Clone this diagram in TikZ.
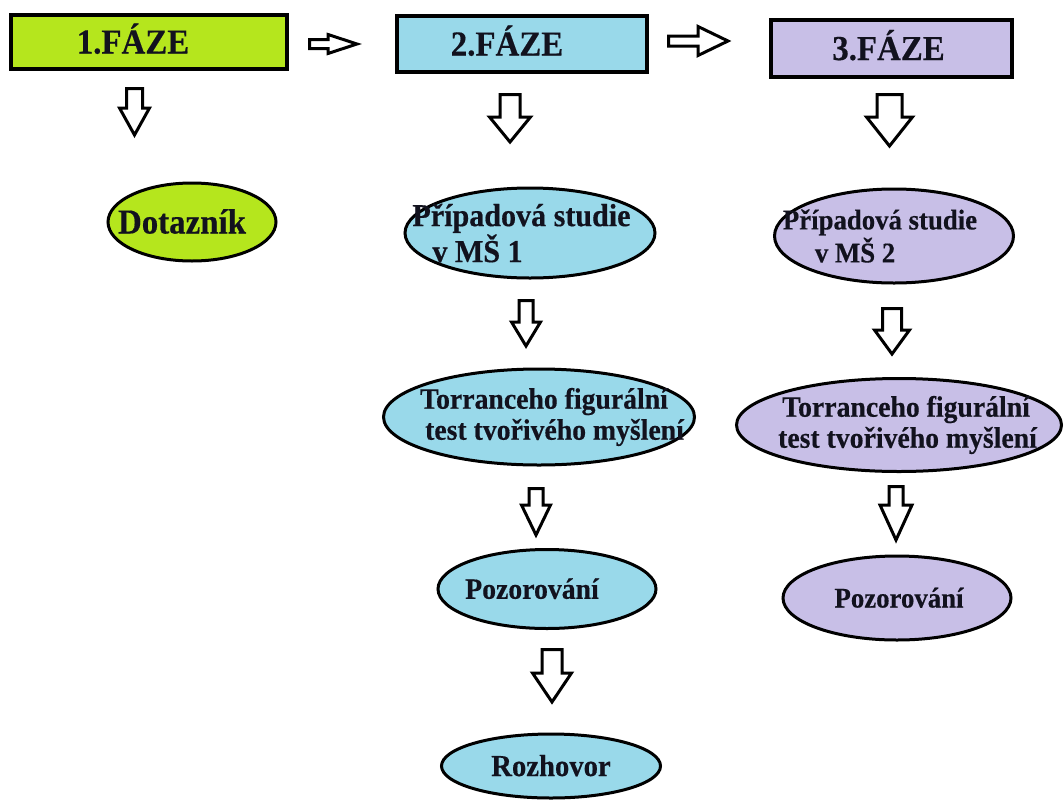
\documentclass[tikz,border=0pt]{standalone}
\usepackage{fontspec}
\setmainfont{Liberation Serif}
\newfontfamily\tallbf[FakeStretch=0.94,FakeBold=0.4]{Liberation Serif Bold}
\usetikzlibrary{shapes.geometric}
\definecolor{clime}{RGB}{181,230,29}
\definecolor{cblue}{RGB}{153,217,234}
\definecolor{clav}{RGB}{200,191,231}
\definecolor{ctext}{RGB}{18,18,30}
\newcommand\ft[2]{\tallbf\fontsize{#1}{#2}\selectfont}
% down block arrow: cx, ytop, yhead, ytip, shaft half width, head half width
\newcommand\darr[6]{\draw[barrow] ({#1-#5},#2) -- ({#1+#5},#2) -- ({#1+#5},#3) -- ({#1+#6},#3) -- (#1,#4) -- ({#1-#6},#3) -- ({#1-#5},#3) -- cycle;}
% right block arrow: cy, xleft, xhead, xtip, shaft half width, head half width
\newcommand\rarr[6]{\draw[barrow] (#2,{#1-#5}) -- (#3,{#1-#5}) -- (#3,{#1-#6}) -- (#4,#1) -- (#3,{#1+#6}) -- (#3,{#1+#5}) -- (#2,{#1+#5}) -- cycle;}
\begin{document}
\begin{tikzpicture}[x=1pt,y=-1pt,
  box/.style={draw=black, rectangle, line width=4pt, inner sep=0pt},
  ell/.style={draw=black, ellipse, line width=3pt, inner sep=0pt},
  lbl/.style={text=ctext, inner sep=0pt, outer sep=0pt, align=left},
  barrow/.style={draw=black, line width=3pt, fill=white, line join=miter}]
\path[use as bounding box, fill=white] (0,0) rectangle (1064,803);

% phase boxes
\node[box, fill=clime, minimum width=276pt, minimum height=54pt,
  label={[lbl, font=\ft{35}{38}, text height=23pt, text depth=0pt, xshift=-16pt]center:1.FÁZE}] (f1) at (149,42) {};
\node[box, fill=cblue, minimum width=250pt, minimum height=56pt,
  label={[lbl, font=\ft{35}{38}, text height=23pt, text depth=0pt, xshift=-15pt]center:2.FÁZE}] (f2) at (522,44) {};
\node[box, fill=clav, minimum width=241pt, minimum height=57pt,
  label={[lbl, font=\ft{35}{38}, text height=23pt, text depth=0pt, xshift=-3pt]center:3.FÁZE}] (f3) at (891.5,48.5) {};

% ellipses
\node[ell, fill=clime, minimum width=168pt, minimum height=78pt,
  label={[lbl, font=\ft{35}{38}, text height=23pt, text depth=0pt, xshift=-10pt]center:Dotazník}] (e1) at (192,222) {};
\node[ell, fill=cblue, minimum width=250pt, minimum height=90pt,
  label={[lbl, font=\ft{32}{36}, xshift=-8.5pt]center:{Případová studie\\\hspace*{20pt}v MŠ 1}}] (e2) at (530,233) {};
\node[ell, fill=clav, minimum width=239pt, minimum height=94pt,
  label={[lbl, font=\ft{28.5}{33}, xshift=-14pt]center:{Případová studie\\\hspace*{32pt}v MŠ 2}}] (e3) at (894,236) {};
\node[ell, fill=cblue, minimum width=311pt, minimum height=96pt,
  label={[lbl, font=\ft{29.5}{31}, xshift=13pt]center:{Torranceho figurální\\\hspace*{5pt}test tvořivého myšlení}}] (e4) at (539,417) {};
\node[ell, fill=clav, minimum width=325pt, minimum height=93pt,
  label={[lbl, font=\ft{29.5}{31}, xshift=8.5pt]center:{\hspace*{4pt}Torranceho figurální\\test tvořivého myšlení}}] (e5) at (899,425) {};
\node[ell, fill=cblue, minimum width=218pt, minimum height=79pt,
  label={[lbl, font=\ft{29.5}{33}, text height=19.5pt, text depth=0pt, xshift=-15pt]center:Pozorování}] (e6) at (547,589) {};
\node[ell, fill=clav, minimum width=228pt, minimum height=84pt,
  label={[lbl, font=\ft{28.5}{32}, text height=19pt, text depth=0pt, xshift=2pt]center:Pozorování}] (e7) at (897,598) {};
\node[ell, fill=cblue, minimum width=219pt, minimum height=64pt,
  label={[lbl, font=\ft{30.5}{34}, text height=20pt, text depth=0pt]center:Rozhovor}] (e8) at (551,766) {};

% block arrows between phases
\rarr{44}{309.5}{328}{357}{4.5}{9.5}
\rarr{41}{668.5}{698}{728}{5}{14.5}

% block arrows down
\darr{134.5}{88.5}{108}{135}{8}{15}
\darr{510}{94.5}{117}{142}{10}{20.5}
\darr{889.5}{94.5}{117}{146}{12.5}{23}
\darr{526}{300.5}{322}{346}{7}{14.5}
\darr{892}{308.5}{330}{354}{9.5}{17.5}
\darr{536}{488.5}{505}{535}{7}{14.5}
\darr{896}{486.5}{505}{540}{7}{16}
\darr{552}{649.5}{673}{702}{10}{19.5}
\end{tikzpicture}
\end{document}
